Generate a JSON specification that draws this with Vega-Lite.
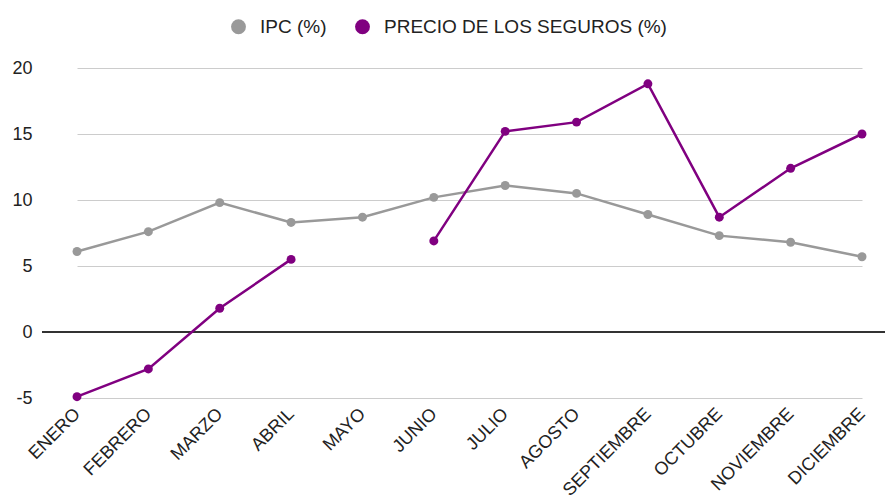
{
  "$schema": "https://vega.github.io/schema/vega-lite/v6.json",
  "autosize": {"type": "none"},
  "width": 843,
  "height": 330,
  "padding": {"left": 42, "top": 68, "right": 0, "bottom": 101},
  "background": "white",
  "config": {
    "view": {"stroke": null},
    "font": "Liberation Sans"
  },
  "data": {
    "values": [
      {"mes": "ENERO", "serie": "IPC (%)", "valor": 6.1},
      {"mes": "FEBRERO", "serie": "IPC (%)", "valor": 7.6},
      {"mes": "MARZO", "serie": "IPC (%)", "valor": 9.8},
      {"mes": "ABRIL", "serie": "IPC (%)", "valor": 8.3},
      {"mes": "MAYO", "serie": "IPC (%)", "valor": 8.7},
      {"mes": "JUNIO", "serie": "IPC (%)", "valor": 10.2},
      {"mes": "JULIO", "serie": "IPC (%)", "valor": 11.1},
      {"mes": "AGOSTO", "serie": "IPC (%)", "valor": 10.5},
      {"mes": "SEPTIEMBRE", "serie": "IPC (%)", "valor": 8.9},
      {"mes": "OCTUBRE", "serie": "IPC (%)", "valor": 7.3},
      {"mes": "NOVIEMBRE", "serie": "IPC (%)", "valor": 6.8},
      {"mes": "DICIEMBRE", "serie": "IPC (%)", "valor": 5.7},
      {"mes": "ENERO", "serie": "PRECIO DE LOS SEGUROS (%)", "valor": -4.9},
      {"mes": "FEBRERO", "serie": "PRECIO DE LOS SEGUROS (%)", "valor": -2.8},
      {"mes": "MARZO", "serie": "PRECIO DE LOS SEGUROS (%)", "valor": 1.8},
      {"mes": "ABRIL", "serie": "PRECIO DE LOS SEGUROS (%)", "valor": 5.5},
      {"mes": "MAYO", "serie": "PRECIO DE LOS SEGUROS (%)", "valor": null},
      {"mes": "JUNIO", "serie": "PRECIO DE LOS SEGUROS (%)", "valor": 6.9},
      {"mes": "JULIO", "serie": "PRECIO DE LOS SEGUROS (%)", "valor": 15.2},
      {"mes": "AGOSTO", "serie": "PRECIO DE LOS SEGUROS (%)", "valor": 15.9},
      {"mes": "SEPTIEMBRE", "serie": "PRECIO DE LOS SEGUROS (%)", "valor": 18.8},
      {"mes": "OCTUBRE", "serie": "PRECIO DE LOS SEGUROS (%)", "valor": 8.7},
      {"mes": "NOVIEMBRE", "serie": "PRECIO DE LOS SEGUROS (%)", "valor": 12.4},
      {"mes": "DICIEMBRE", "serie": "PRECIO DE LOS SEGUROS (%)", "valor": 15.0}
    ]
  },
  "encoding": {
    "x": {
      "field": "mes",
      "type": "ordinal",
      "sort": ["ENERO","FEBRERO","MARZO","ABRIL","MAYO","JUNIO","JULIO","AGOSTO","SEPTIEMBRE","OCTUBRE","NOVIEMBRE","DICIEMBRE"],
      "scale": {"type": "point", "range": [35, 820], "padding": 0},
      "axis": {
        "title": null,
        "grid": false,
        "domain": false,
        "ticks": false,
        "labelAngle": -45,
        "labelAlign": "right",
        "labelBaseline": "middle",
        "labelPadding": 13,
        "labelFontSize": 18,
        "labelColor": "#222222"
      }
    },
    "y": {
      "field": "valor",
      "type": "quantitative",
      "scale": {"domain": [-5, 20], "nice": false},
      "axis": {
        "title": null,
        "values": [-5, 0, 5, 10, 15, 20],
        "labelExpr": "'' + datum.value",
        "grid": true,
        "gridColor": "#cccccc",
        "gridWidth": 1,
        "domain": false,
        "ticks": false,
        "labelPadding": 10,
        "labelFontSize": 18,
        "labelColor": "#222222"
      }
    },
    "color": {
      "field": "serie",
      "type": "nominal",
      "scale": {"domain": ["IPC (%)", "PRECIO DE LOS SEGUROS (%)"], "range": ["#999999", "#800080"]},
      "legend": {
        "title": null,
        "orient": "none",
        "direction": "horizontal",
        "legendX": 187,
        "legendY": -51,
        "symbolType": "circle",
        "symbolSize": 220,
        "symbolStrokeWidth": 0,
        "labelFontSize": 19,
        "labelLimit": 500,
        "labelColor": "#222222",
        "labelOffset": 12,
        "columnPadding": 26
      }
    }
  },
  "layer": [
    {
      "mark": {"type": "rule", "color": "#333333", "strokeWidth": 1},
      "encoding": {"y": {"datum": 0}, "x": null, "color": null}
    },
    {
      "mark": {"type": "line", "strokeWidth": 2.5, "invalid": "break-paths-filter-domains"}
    },
    {
      "mark": {"type": "point", "filled": true, "size": 80, "opacity": 1}
    }
  ]
}
